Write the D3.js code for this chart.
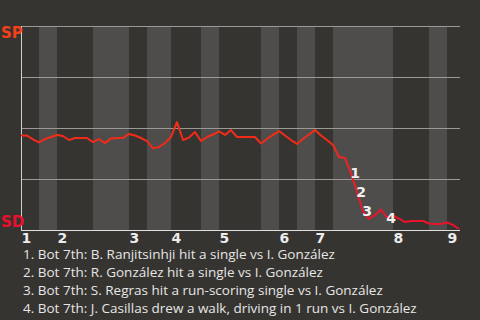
<!DOCTYPE html>
<html>
<head>
<meta charset="utf-8">
<script src="https://cdn.jsdelivr.net/npm/d3@7"></script>
<style>
  html, body { margin: 0; padding: 0; background: #363430; }
  svg { display: block; }
</style>
</head>
<body>
<div id="chart"></div>
<script>
// SP win probability (%) after each play, play index 0..73
const winProb = [
  46.3, 46.3, 44.4, 42.9, 44.6, 45.6, 46.6, 46.1, 44.1, 45.1,
  45.1, 45.1, 43.1, 44.6, 42.6, 44.9, 45.1, 45.1, 47.1, 46.3,
  45.1, 43.6, 40.0, 40.7, 42.6, 45.6, 52.9, 44.1, 45.3, 48.0,
  43.6, 45.6, 46.8, 48.3, 46.6, 49.0, 45.6, 45.6, 45.6, 45.6,
  42.4, 44.6, 46.6, 48.5, 46.3, 44.1, 42.2, 44.6, 46.8, 49.0,
  46.3, 44.1, 41.7, 35.8, 35.3, 27.9, 18.6, 9.3, 5.4, 7.4,
  10.0, 6.1, 7.1, 5.6, 3.9, 4.4, 4.4, 4.4, 3.2, 2.9,
  2.9, 3.7, 2.5, 0.5
];

// play index where each inning starts
const inningStarts = [0, 6, 18, 25, 33, 43, 49, 62, 71];
const inningLabels = ["1", "2", "3", "4", "5", "6", "7", "8", "9"];

// bottom halves (shaded), as [start, end] play index
const bottomHalves = [[3, 6], [12, 18], [21, 25], [30, 33], [40, 43], [46, 49], [52, 62], [68, 71]];

// key plays marked on the line
const keyPlays = [55, 56, 57, 61];
const keyPlayText = [
  "Bot 7th: B. Ranjitsinhji hit a single vs I. González",
  "Bot 7th: R. González hit a single vs I. González",
  "Bot 7th: S. Regras hit a run-scoring single vs I. González",
  "Bot 7th: J. Casillas drew a walk, driving in 1 run vs I. González"
];

const teams = { top: "SP", bottom: "SD" };

const width = 480, height = 320;
const margin = { top: 26, right: 20, bottom: 90, left: 21 };
const spColor = "#f5401a", sdColor = "#e8102c";
const font = "'Open Sans', 'Noto Sans', sans-serif";
const boldFont = "'DejaVu Sans', 'Liberation Sans', sans-serif";

const svg = d3.select("#chart").append("svg")
  .attr("width", width)
  .attr("height", height)
  .attr("viewBox", [0, 0, width, height]);

svg.append("rect").attr("width", width).attr("height", height).attr("fill", "#363430");

const x = d3.scaleLinear().domain([0, winProb.length - 1]).range([margin.left, width - margin.right - 1]);
const y = d3.scaleLinear().domain([0, 100]).range([height - margin.bottom, margin.top]);

// shaded bottom halves
svg.append("g")
  .selectAll("rect")
  .data(bottomHalves)
  .join("rect")
  .attr("x", d => x(d[0]))
  .attr("width", d => x(d[1]) - x(d[0]))
  .attr("y", y(100))
  .attr("height", y(0) - y(100))
  .attr("fill", "#4e4d4b");

// gridlines
svg.append("g")
  .selectAll("line")
  .data([25, 50, 75, 100])
  .join("line")
  .attr("x1", x(0))
  .attr("x2", x(winProb.length - 1) + 1)
  .attr("y1", d => y(d) + 0.5)
  .attr("y2", d => y(d) + 0.5)
  .attr("stroke", "#9a9996")
  .attr("stroke-width", 1);

// axes lines
svg.append("line")
  .attr("x1", x(0) + 0.5).attr("x2", x(0) + 0.5)
  .attr("y1", y(100)).attr("y2", y(0) + 1)
  .attr("stroke", "#d0d0d0");
svg.append("line")
  .attr("x1", x(0)).attr("x2", x(winProb.length - 1) + 1)
  .attr("y1", y(0) + 0.5).attr("y2", y(0) + 0.5)
  .attr("stroke", "#e0e0e0");

// line gradient SP -> SD
const grad = svg.append("defs").append("linearGradient")
  .attr("id", "wpGrad")
  .attr("gradientUnits", "userSpaceOnUse")
  .attr("x1", 0).attr("x2", 0)
  .attr("y1", y(100)).attr("y2", y(0));
grad.append("stop").attr("offset", "0%").attr("stop-color", "#ff4a00");
grad.append("stop").attr("offset", "100%").attr("stop-color", sdColor);

const line = d3.line()
  .x((d, i) => x(i))
  .y(d => y(d));

svg.append("path")
  .datum(winProb)
  .attr("fill", "none")
  .attr("stroke", "url(#wpGrad)")
  .attr("stroke-width", 2)
  .attr("stroke-linejoin", "round")
  .attr("d", line);

// key play numbers
svg.append("g")
  .selectAll("text")
  .data(keyPlays)
  .join("text")
  .attr("x", d => x(d) + 4)
  .attr("y", d => y(winProb[d]) + 5)
  .attr("text-anchor", "middle")
  .attr("fill", "#f0f0f0")
  .style("font-family", boldFont)
  .style("font-weight", "bold")
  .style("font-size", "14px")
  .text((d, i) => i + 1);

// team labels
svg.append("text")
  .attr("x", 1).attr("y", 38)
  .attr("fill", spColor)
  .style("font-family", boldFont)
  .style("font-weight", "bold")
  .style("font-size", "15px")
  .text(teams.top);
svg.append("text")
  .attr("x", 1).attr("y", 227)
  .attr("fill", sdColor)
  .style("font-family", boldFont)
  .style("font-weight", "bold")
  .style("font-size", "15px")
  .text(teams.bottom);

// inning labels
svg.append("g")
  .selectAll("text")
  .data(inningStarts)
  .join("text")
  .attr("x", d => x(d) + 0.5)
  .attr("y", 243)
  .attr("fill", "#ececec")
  .style("font-family", boldFont)
  .style("font-weight", "bold")
  .style("font-size", "14px")
  .text((d, i) => inningLabels[i]);

// key play descriptions
svg.append("g")
  .selectAll("text")
  .data(keyPlayText)
  .join("text")
  .attr("x", 23)
  .attr("y", (d, i) => 259 + i * 18)
  .attr("fill", "#e6e6e6")
  .style("font-family", font)
  .style("font-size", "13.5px")
  .text((d, i) => `${i + 1}. ${d}`);
</script>
</body>
</html>
